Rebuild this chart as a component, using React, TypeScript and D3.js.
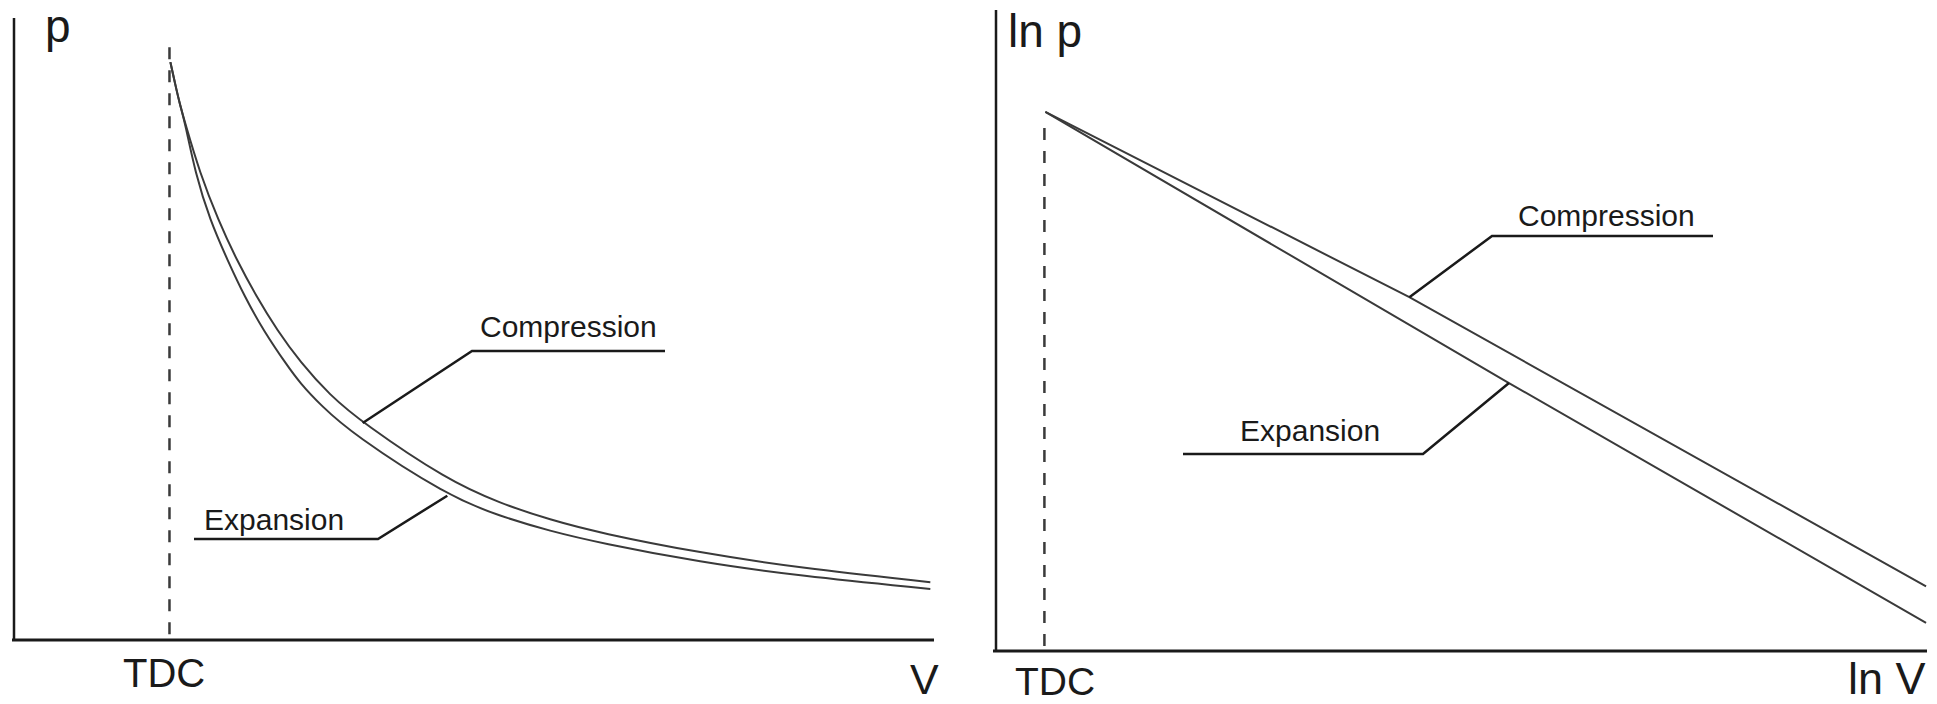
import React from "react";
import * as d3 from "d3";

// ---------- DATA (chart units: 0..100 on each axis) ----------
// Left panel: p–V diagram
const pvCompressionV = [17.0, 17.5, 18.0, 18.6, 20.2, 22.2, 24.2, 26.4, 28.6, 31.1, 34.3, 37.9, 47.1, 52.8, 58.3, 63.7, 74.6, 85.4, 99.6];
const pvCompressionP = [92.9, 89.5, 86.3, 83.1, 75.1, 67.5, 61.1, 55.1, 49.8, 44.7, 39.4, 34.9, 25.7, 22.0, 19.3, 17.2, 14.0, 11.6, 9.3];
const pvExpansionV = [17.0, 17.5, 18.0, 18.6, 19.7, 21.3, 23.2, 25.1, 27.1, 29.7, 31.1, 33.3, 36.8, 47.1, 52.8, 58.3, 63.7, 74.6, 85.4, 99.6];
const pvExpansionP = [92.9, 89.5, 86.3, 83.1, 75.1, 67.5, 61.1, 55.1, 49.8, 44.1, 41.3, 37.8, 33.1, 23.2, 19.9, 17.5, 15.6, 12.5, 10.3, 8.2];
const pvTDC = 16.9;
const pvTDCTop = 95.3;

// Right panel: ln p – ln V diagram
const lnCompressionV = [5.3, 44.4, 99.9];
const lnCompressionP = [84.1, 55.2, 10.1];
const lnExpansionV = [5.3, 55.1, 99.9];
const lnExpansionP = [84.1, 41.8, 4.4];
const lnTDC = 5.2;
const lnTDCTop = 81.6;

// Annotation texts and the curve points they point to
const annotationTexts = ["Compression", "Expansion", "Compression", "Expansion"];
const annotationTargetV = [37.9, 47.1, 44.4, 55.1];
const annotationTargetP = [34.9, 23.2, 55.2, 41.8];

const axisLabelsLeft = ["p", "V", "TDC"];
const axisLabelsRight = ["ln p", "ln V", "TDC"];

// ---------- LAYOUT ----------
const W = 1937;
const H = 704;
const FONT = "'Liberation Sans', Arial, Helvetica, sans-serif";
const INK = "#1a1a1a";
const CURVE = "#3a3a3a";

const leftX = d3.scaleLinear().domain([0, 100]).range([14, 934]);
const leftY = d3.scaleLinear().domain([0, 100]).range([640, 18]);
const rightX = d3.scaleLinear().domain([0, 100]).range([996, 1927]);
const rightY = d3.scaleLinear().domain([0, 100]).range([651, 10]);

type Pt = [number, number];
const zip = (a: number[], b: number[]): Pt[] => a.map((v, i) => [v, b[i]]);

function curvePath(xs: d3.ScaleLinear<number, number>, ys: d3.ScaleLinear<number, number>, pts: Pt[], smooth: boolean) {
  const gen = d3
    .line<Pt>()
    .x((d) => xs(d[0]))
    .y((d) => ys(d[1]))
    .curve(smooth ? d3.curveBasis : d3.curveLinear);
  return gen(pts) || "";
}

// label layouts (pixel): elbow point, underline other end, text x, text baseline
const annotationLayout = [
  { elbow: [472, 351], lineEnd: 665, tx: 480, ty: 337, panel: "L" },
  { elbow: [378, 539], lineEnd: 194, tx: 204, ty: 530, panel: "L" },
  { elbow: [1492, 236], lineEnd: 1713, tx: 1518, ty: 226, panel: "R" },
  { elbow: [1423, 454], lineEnd: 1183, tx: 1240, ty: 441, panel: "R" },
];

export default function App() {
  return (
    <svg
      width={W}
      height={H}
      viewBox={`0 0 ${W} ${H}`}
      style={{ position: "absolute", left: 0, top: 0, background: "#fff" }}
    >
      <rect x={0} y={0} width={W} height={H} fill="#fff" />

      {/* ---------- Left panel ---------- */}
      <g>
        <line x1={leftX(0)} y1={leftY(0) + 1} x2={leftX(0)} y2={leftY(100)} stroke={INK} strokeWidth={2.5} />
        <line x1={leftX(0) - 2} y1={leftY(0)} x2={leftX(100)} y2={leftY(0)} stroke={INK} strokeWidth={3} />
        <line
          x1={leftX(pvTDC)}
          y1={leftY(pvTDCTop)}
          x2={leftX(pvTDC)}
          y2={leftY(0)}
          stroke={CURVE}
          strokeWidth={2.5}
          strokeDasharray="12 11"
        />
        <path d={curvePath(leftX, leftY, zip(pvCompressionV, pvCompressionP), true)} fill="none" stroke={CURVE} strokeWidth={2} />
        <path d={curvePath(leftX, leftY, zip(pvExpansionV, pvExpansionP), true)} fill="none" stroke={CURVE} strokeWidth={2} />

        <text x={45} y={42} fontFamily={FONT} fontSize={46} fill={INK}>{axisLabelsLeft[0]}</text>
        <text x={910} y={694} fontFamily={FONT} fontSize={43} fill={INK}>{axisLabelsLeft[1]}</text>
        <text x={123} y={687} fontFamily={FONT} fontSize={40} fill={INK}>{axisLabelsLeft[2]}</text>
      </g>

      {/* ---------- Right panel ---------- */}
      <g>
        <line x1={rightX(0)} y1={rightY(0) + 1} x2={rightX(0)} y2={rightY(100)} stroke={INK} strokeWidth={2.5} />
        <line x1={rightX(0) - 3} y1={rightY(0)} x2={rightX(100)} y2={rightY(0)} stroke={INK} strokeWidth={3} />
        <line
          x1={rightX(lnTDC)}
          y1={rightY(lnTDCTop)}
          x2={rightX(lnTDC)}
          y2={rightY(0)}
          stroke={CURVE}
          strokeWidth={2.5}
          strokeDasharray="12 11"
        />
        <path d={curvePath(rightX, rightY, zip(lnCompressionV, lnCompressionP), false)} fill="none" stroke={CURVE} strokeWidth={2} />
        <path d={curvePath(rightX, rightY, zip(lnExpansionV, lnExpansionP), false)} fill="none" stroke={CURVE} strokeWidth={2} />

        <text x={1008} y={47} fontFamily={FONT} fontSize={46} fill={INK}>{axisLabelsRight[0]}</text>
        <text x={1848} y={694} fontFamily={FONT} fontSize={45} fill={INK}>{axisLabelsRight[1]}</text>
        <text x={1015} y={695} fontFamily={FONT} fontSize={39} fill={INK}>{axisLabelsRight[2]}</text>
      </g>

      {/* ---------- Annotations ---------- */}
      {annotationTexts.map((t, i) => {
        const L = annotationLayout[i];
        const xs = L.panel === "L" ? leftX : rightX;
        const ys = L.panel === "L" ? leftY : rightY;
        const tx = xs(annotationTargetV[i]);
        const ty = ys(annotationTargetP[i]);
        const [ex, ey] = L.elbow;
        return (
          <g key={i}>
            <polyline
              points={`${tx},${ty} ${ex},${ey} ${L.lineEnd},${ey}`}
              fill="none"
              stroke={INK}
              strokeWidth={2.5}
            />
            <text x={L.tx} y={L.ty} fontFamily={FONT} fontSize={30} fill={INK}>{t}</text>
          </g>
        );
      })}
    </svg>
  );
}
